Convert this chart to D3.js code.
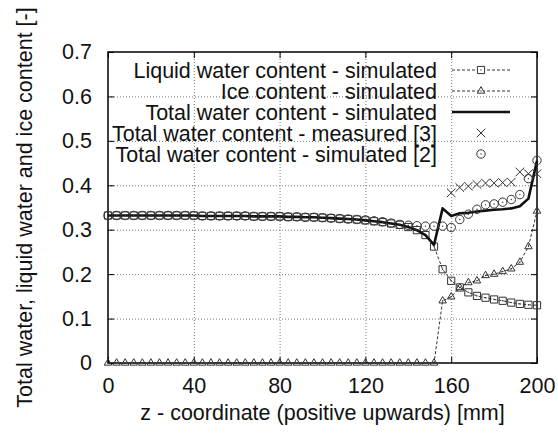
<!DOCTYPE html>
<html>
<head>
<meta charset="utf-8">
<script src="https://cdn.jsdelivr.net/npm/d3@7"></script>
<style>
  body { margin: 0; background: #fff; }
  svg { display: block; font-family: "Liberation Sans", Arial, sans-serif; }
  .grid line { stroke: #777; stroke-dasharray: 1,2; }
  .grid path { display: none; }
</style>
</head>
<body>
<svg id="chart" width="558" height="433"></svg>
<script>
// z - coordinate of the simulation nodes [mm]
var zSim = [0, 4, 8, 12, 16, 20, 24, 28, 32, 36, 40, 44, 48, 52, 56, 60, 64, 68, 72, 76,
    80, 84, 88, 92, 96, 100, 104, 108, 112, 116, 120, 124, 128, 132, 136, 140, 144, 148,
    152, 156, 160, 164, 168, 172, 176, 180, 184, 188, 192, 196, 200];

var liquidSim = [0.332, 0.332, 0.332, 0.332, 0.332, 0.332, 0.332, 0.332, 0.332, 0.332,
    0.332, 0.331, 0.331, 0.331, 0.331, 0.331, 0.331, 0.330, 0.330, 0.330,
    0.330, 0.329, 0.329, 0.328, 0.328, 0.327, 0.326, 0.325, 0.324, 0.323,
    0.321, 0.319, 0.317, 0.314, 0.311, 0.306, 0.299, 0.288, 0.262, 0.211,
    0.185, 0.170, 0.159, 0.151, 0.147, 0.143, 0.140, 0.136, 0.133, 0.131, 0.130];

var iceSim = [0, 0, 0, 0, 0, 0, 0, 0, 0, 0, 0, 0, 0, 0, 0, 0, 0, 0, 0, 0,
    0, 0, 0, 0, 0, 0, 0, 0, 0, 0, 0, 0, 0, 0, 0, 0, 0, 0, 0,
    0.140, 0.149, 0.170, 0.181, 0.185, 0.197, 0.200, 0.206, 0.212, 0.227, 0.262, 0.342];

var totalSim = [0.332, 0.332, 0.332, 0.332, 0.332, 0.332, 0.332, 0.332, 0.332, 0.332,
    0.332, 0.331, 0.331, 0.331, 0.331, 0.331, 0.331, 0.330, 0.330, 0.330,
    0.330, 0.329, 0.329, 0.328, 0.328, 0.327, 0.326, 0.325, 0.324, 0.323,
    0.321, 0.319, 0.317, 0.314, 0.311, 0.306, 0.299, 0.288, 0.266, 0.348,
    0.331, 0.337, 0.338, 0.341, 0.343, 0.345, 0.346, 0.348, 0.353, 0.370, 0.455];

var totalRef2 = [0.332, 0.332, 0.332, 0.332, 0.332, 0.332, 0.332, 0.332, 0.332, 0.332,
    0.332, 0.331, 0.331, 0.331, 0.331, 0.331, 0.331, 0.330, 0.330, 0.330,
    0.330, 0.329, 0.329, 0.328, 0.328, 0.327, 0.326, 0.325, 0.324, 0.323,
    0.322, 0.320, 0.318, 0.315, 0.312, 0.310, 0.309, 0.308, 0.308, 0.308,
    0.305, 0.323, 0.335, 0.346, 0.356, 0.358, 0.362, 0.368, 0.379, 0.415, 0.456];

var zMeasured = [160, 164, 168, 172, 176, 180, 184, 188, 192, 196, 200];
var totalMeasured = [0.383, 0.395, 0.398, 0.402, 0.405, 0.405, 0.406, 0.407, 0.430, 0.426, 0.426];

var xTicks = [0, 40, 80, 120, 160, 200];
var yTicks = [0, 0.1, 0.2, 0.3, 0.4, 0.5, 0.6, 0.7];

var legendLabels = [
    "Liquid water content - simulated",
    "Ice content - simulated",
    "Total water content - simulated",
    "Total water content - measured [3]",
    "Total water content - simulated [2]"
];

var margin = { top: 52, right: 21, bottom: 70, left: 108 },
    width = 558 - margin.left - margin.right,
    height = 433 - margin.top - margin.bottom,
    fontSize = 21.5;

var svg = d3.select("#chart");
var g = svg.append("g").attr("transform", "translate(" + margin.left + "," + margin.top + ")");

var x = d3.scaleLinear().domain([0, 200]).range([0, width]);
var y = d3.scaleLinear().domain([0, 0.7]).range([height, 0]);

// dotted grid (inner ticks only)
g.append("g").attr("class", "grid")
    .attr("transform", "translate(0," + height + ")")
    .call(d3.axisBottom(x).tickValues(xTicks.slice(1, -1)).tickSize(-height).tickFormat(""));
g.append("g").attr("class", "grid")
    .call(d3.axisLeft(y).tickValues(yTicks.slice(1, -1)).tickSize(-width).tickFormat(""));

// axes: ticks point inwards, mirrored on top and right
function styleAxis(sel) {
    sel.select(".domain").remove();
    sel.selectAll(".tick line").attr("stroke", "#000");
    sel.selectAll("text").attr("font-size", fontSize).attr("fill", "#111").attr("font-family", null);
}

g.append("g")
    .attr("transform", "translate(0," + height + ")")
    .call(d3.axisBottom(x).tickValues(xTicks).tickSize(-6).tickPadding(15).tickFormat(d3.format("d")))
    .call(styleAxis);
g.append("g")
    .call(d3.axisTop(x).tickValues(xTicks).tickSize(-6).tickFormat(""))
    .call(styleAxis);
g.append("g")
    .call(d3.axisLeft(y).tickValues(yTicks).tickSize(-6).tickPadding(16).tickFormat(function(d) { return d === 0 ? "0" : d3.format(".1f")(d); }))
    .call(styleAxis);
g.append("g")
    .attr("transform", "translate(" + width + ",0)")
    .call(d3.axisRight(y).tickValues(yTicks).tickSize(-6).tickFormat(""))
    .call(styleAxis);

g.append("rect")
    .attr("width", width).attr("height", height)
    .attr("fill", "none").attr("stroke", "#000").attr("stroke-width", 1.5);

// axis titles
svg.append("text")
    .attr("x", margin.left + width / 2).attr("y", 420)
    .attr("text-anchor", "middle").attr("font-size", fontSize).attr("fill", "#111")
    .text("z - coordinate (positive upwards) [mm]");
svg.append("text")
    .attr("transform", "translate(32," + (margin.top + height / 2) + ") rotate(-90)")
    .attr("text-anchor", "middle").attr("font-size", fontSize).attr("fill", "#111")
    .text("Total water, liquid water and ice content [-]");

// marker shapes
var symSquare = d3.symbol().type(d3.symbolSquare2).size(66),
    symTriangle = d3.symbol().type(d3.symbolTriangle2).size(40),
    symTimes = d3.symbol().type(d3.symbolTimes).size(50),
    symCircle = d3.symbol().type(d3.symbolCircle).size(56);

function drawMarkers(parent, xs, ys, sym, dotted) {
    var m = parent.append("g").selectAll("g")
        .data(xs.map(function(d, i) { return [d, ys[i]]; }))
        .join("g")
        .attr("transform", function(d) { return "translate(" + x(d[0]) + "," + y(d[1]) + ")"; });
    m.append("path").attr("d", sym).attr("fill", "none").attr("stroke", "#333").attr("stroke-width", 1);
    if (dotted) {
        m.append("circle").attr("r", 0.7).attr("fill", "#333");
    }
    return m;
}

var line = d3.line()
    .x(function(d) { return x(d[0]); })
    .y(function(d) { return y(d[1]); });

function pairs(xs, ys) {
    return xs.map(function(d, i) { return [d, ys[i]]; });
}

// liquid water
g.append("path")
    .attr("d", line(pairs(zSim, liquidSim)))
    .attr("fill", "none").attr("stroke", "#333").attr("stroke-width", 1).attr("stroke-dasharray", "3,2");
drawMarkers(g, zSim, liquidSim, symSquare, true);

// ice
g.append("path")
    .attr("d", line(pairs(zSim, iceSim)))
    .attr("fill", "none").attr("stroke", "#333").attr("stroke-width", 1).attr("stroke-dasharray", "3,2");
drawMarkers(g, zSim, iceSim, symTriangle, true);

// total simulated
g.append("path")
    .attr("d", line(pairs(zSim, totalSim)))
    .attr("fill", "none").attr("stroke", "#111").attr("stroke-width", 2.6).attr("stroke-linejoin", "round");

// measured [3] and simulated [2]
drawMarkers(g, zMeasured, totalMeasured, symTimes, false);
drawMarkers(g, zSim, totalRef2, symCircle, true);

// legend
var legend = svg.append("g");
var rowY = function(i) { return 70 + i * 21; };
legend.selectAll("text")
    .data(legendLabels)
    .join("text")
    .attr("x", 437).attr("y", function(d, i) { return rowY(i); })
    .attr("dy", "0.35em")
    .attr("text-anchor", "end").attr("font-size", fontSize).attr("fill", "#111")
    .text(function(d) { return d; });

var lx0 = 452, lx1 = 510, lxm = 481;
[0, 1].forEach(function(i) {
    legend.append("line")
        .attr("x1", lx0).attr("x2", lx1).attr("y1", rowY(i)).attr("y2", rowY(i))
        .attr("stroke", "#333").attr("stroke-width", 1).attr("stroke-dasharray", "3,2");
});
legend.append("line")
    .attr("x1", lx0).attr("x2", lx1).attr("y1", rowY(2)).attr("y2", rowY(2))
    .attr("stroke", "#111").attr("stroke-width", 2.6);

[symSquare, symTriangle, symTimes, symCircle].forEach(function(sym, k) {
    var i = k < 2 ? k : k + 1;
    var mk = legend.append("g").attr("transform", "translate(" + lxm + "," + rowY(i) + ")");
    mk.append("path").attr("d", sym).attr("fill", k < 2 ? "#fff" : "none").attr("stroke", "#333").attr("stroke-width", 1);
    if (k !== 2) {
        mk.append("circle").attr("r", 0.7).attr("fill", "#333");
    }
});
</script>
</body>
</html>
